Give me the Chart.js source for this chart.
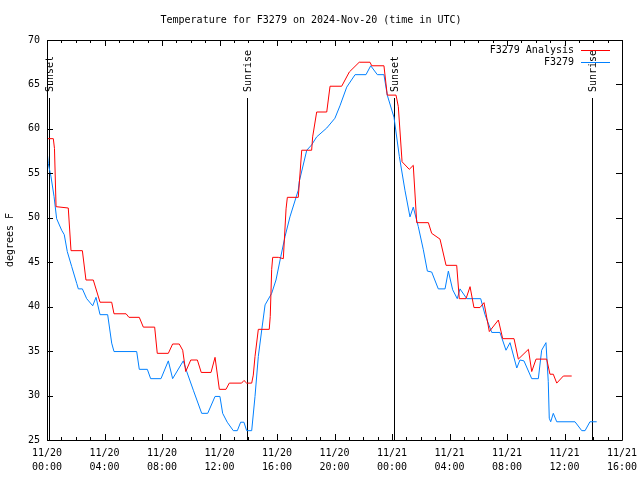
<!DOCTYPE html>
<html>
<head>
<meta charset="utf-8">
<script src="https://cdn.jsdelivr.net/npm/chart.js@4.4.1/dist/chart.umd.min.js"></script>
<style>
  body { margin: 0; background: #fff; }
  canvas { display: block; }
</style>
</head>
<body>
<canvas id="temp-chart" width="640" height="480"></canvas>
<script>
// hours since 11/20 00:00 UTC
const analysisHours = [0, 0.44, 0.52, 0.63, 1.48, 1.67, 2.46, 2.71, 3.22, 3.69, 4.50, 4.66, 5.50, 5.70, 6.42, 6.70,
  7.49, 7.67, 8.44, 8.74, 9.20, 9.44, 9.65, 10.00, 10.46, 10.73, 11.41, 11.69, 11.99, 12.45, 12.68, 13.54,
  13.70, 13.89, 14.24, 14.35, 14.47, 14.70, 15.46, 15.53, 15.63, 15.70, 16.09, 16.44, 16.63, 16.72, 17.48,
  17.72, 18.41, 18.48, 18.76, 19.46, 19.69, 20.50, 21.03, 21.72, 22.47, 22.59, 23.44, 23.67, 24.28, 24.44,
  24.70, 25.20, 25.48, 25.72, 26.53, 26.76, 27.34, 27.76, 28.50, 28.68, 29.15, 29.43, 29.70, 30.12, 30.40,
  30.77, 31.40, 31.70, 32.49, 32.79, 33.49, 33.72, 34.02, 34.76, 34.99, 35.22, 35.46, 35.92, 36.50];
const analysisTemps = [58.9, 58.9, 57.8, 51.25, 51.1, 46.3, 46.3, 43.0, 43.0, 40.5, 40.5, 39.2, 39.2, 38.8, 38.8, 37.7,
  37.7, 34.75, 34.75, 35.8, 35.8, 35.1, 32.7, 34.0, 34.0, 32.6, 32.6, 34.3, 30.7, 30.7, 31.4, 31.4,
  31.7, 31.4, 31.4, 32.3, 34.4, 37.45, 37.45, 38.9, 44.2, 45.55, 45.55, 45.4, 51.0, 52.3, 52.3,
  57.6, 57.6, 59.1, 61.9, 61.9, 64.8, 64.8, 66.4, 67.5, 67.5, 67.1, 67.1, 63.8, 63.8, 62.5,
  56.3, 55.45, 55.9, 49.45, 49.45, 48.25, 47.6, 44.65, 44.65, 40.9, 40.9, 42.25, 39.9, 39.9, 40.45,
  37.2, 38.5, 36.4, 36.4, 34.1, 35.2, 32.7, 34.1, 34.1, 32.4, 32.4, 31.4, 32.2, 32.2];

const stationHours = [0, 0.09, 0.28, 0.49, 0.67, 1.02, 1.20, 1.41, 1.72, 2.07, 2.18, 2.46, 2.76, 3.18, 3.41, 3.69,
  4.22, 4.50, 4.66, 6.24, 6.42, 6.98, 7.21, 7.93, 8.44, 8.74, 9.48, 9.72, 10.18, 10.76, 11.18, 11.69,
  12.03, 12.22, 12.54, 12.96, 13.24, 13.47, 13.70, 13.89, 14.24, 14.47, 14.70, 14.94, 15.17, 15.63,
  15.93, 16.26, 16.56, 16.90, 17.48, 17.55, 18.07, 18.41, 18.76, 19.46, 20.03, 20.38, 20.85, 21.43,
  22.19, 22.52, 22.98, 23.44, 23.67, 24.14, 24.51, 24.90, 25.25, 25.48, 25.83, 26.18, 26.46, 26.76,
  27.22, 27.69, 27.92, 28.22, 28.54, 28.73, 29.20, 30.17, 30.47, 30.94, 31.51, 31.93, 32.21, 32.68,
  32.90, 33.18, 33.72, 34.18, 34.41, 34.71, 34.87, 34.94, 35.04, 35.22, 35.46, 36.73, 37.20, 37.43,
  37.77, 38.24];
const stationTemps = [57.6, 56.1, 54.6, 52.4, 49.9, 48.6, 48.1, 46.2, 44.5, 42.6, 42.0, 42.0, 40.9, 40.1, 41.05, 39.1,
  39.1, 35.9, 34.95, 34.95, 32.95, 32.95, 31.9, 31.9, 33.9, 31.9, 33.9, 32.7, 30.6, 28.0, 28.0, 29.9,
  29.9, 28.0, 27.0, 26.05, 26.05, 27.0, 27.0, 26.05, 26.05, 29.9, 34.4, 37.4, 40.2, 41.5,
  43.0, 45.6, 47.9, 50.1, 53.1, 54.1, 57.6, 58.2, 59.1, 60.1, 61.2, 62.6, 64.7, 66.1,
  66.1, 67.1, 66.1, 66.1, 63.8, 61.3, 56.9, 53.1, 50.1, 51.2, 49.0, 46.4, 44.0, 43.9,
  42.0, 42.0, 44.0, 41.9, 40.9, 42.0, 40.9, 40.9, 39.1, 37.1, 37.1, 35.1, 35.95, 33.1,
  34.0, 33.9, 31.9, 31.9, 35.1, 35.95, 31.6, 27.45, 27.05, 28.0, 27.05, 27.05, 26.05, 26.05,
  27.05, 27.05];

const xTickLabels = [['11/20', '00:00'], ['11/20', '04:00'], ['11/20', '08:00'], ['11/20', '12:00'],
  ['11/20', '16:00'], ['11/20', '20:00'], ['11/21', '00:00'], ['11/21', '04:00'], ['11/21', '08:00'],
  ['11/21', '12:00'], ['11/21', '16:00']];

const sunHours = [0.16, 13.88, 24.15, 37.92];
const sunNames = ['Sunset', 'Sunrise', 'Sunset', 'Sunrise'];

const seriesNames = ['F3279 Analysis', 'F3279'];
const seriesColors = ['#ff0000', '#0080ff'];

const FONT = '"DejaVu Sans Mono", "Liberation Mono", monospace';

function toPoints(xs, ys) {
  return xs.map((x, i) => ({ x: x, y: ys[i] }));
}

// gnuplot style frame, inward ticks, sunrise/sunset markers and legend
const gnuplotBits = {
  id: 'gnuplotBits',
  beforeDatasetsDraw(chart) {
    const ctx = chart.ctx;
    const area = chart.chartArea;
    const xs = chart.scales.x;
    ctx.save();
    ctx.strokeStyle = '#000';
    ctx.lineWidth = 1;
    ctx.fillStyle = '#000';
    ctx.font = '10px ' + FONT;
    sunHours.forEach((h, i) => {
      const px = Math.round(xs.getPixelForValue(h)) + 0.5;
      ctx.beginPath();
      ctx.moveTo(px, area.top + 58);
      ctx.lineTo(px, area.bottom);
      ctx.stroke();
      ctx.save();
      ctx.translate(px + 1, area.top + 52);
      ctx.rotate(-Math.PI / 2);
      ctx.textAlign = 'left';
      ctx.textBaseline = 'middle';
      ctx.fillText(sunNames[i], 0, 0);
      ctx.restore();
    });
    ctx.restore();
  },
  afterDatasetsDraw(chart) {
    const ctx = chart.ctx;
    const area = chart.chartArea;
    const xs = chart.scales.x;
    const ys = chart.scales.y;
    ctx.save();
    ctx.strokeStyle = '#000';
    ctx.lineWidth = 1;
    ctx.beginPath();
    ctx.rect(area.left + 0.5, area.top + 0.5, area.right - area.left, area.bottom - area.top);
    ctx.stroke();

    ctx.beginPath();
    for (let v = ys.min; v <= ys.max; v += 5) {
      const py = Math.round(ys.getPixelForValue(v)) + 0.5;
      ctx.moveTo(area.left, py); ctx.lineTo(area.left + 6, py);
      ctx.moveTo(area.right, py); ctx.lineTo(area.right - 6, py);
    }
    for (let h = xs.min; h <= xs.max; h += 1) {
      const px = Math.round(xs.getPixelForValue(h)) + 0.5;
      const len = h % 4 === 0 ? 6 : 3;
      ctx.moveTo(px, area.bottom); ctx.lineTo(px, area.bottom - len);
      ctx.moveTo(px, area.top); ctx.lineTo(px, area.top + len);
    }
    ctx.stroke();

    // legend
    ctx.font = '10px ' + FONT;
    ctx.textAlign = 'right';
    ctx.textBaseline = 'middle';
    seriesNames.forEach((name, i) => {
      const ty = area.top + 10 + i * 12;
      ctx.fillStyle = '#000';
      ctx.fillText(name, area.right - 48, ty);
      ctx.strokeStyle = seriesColors[i];
      ctx.beginPath();
      ctx.moveTo(area.right - 41, ty + 0.5);
      ctx.lineTo(area.right - 12, ty + 0.5);
      ctx.stroke();
    });
    ctx.restore();
  }
};

const tempChart = document.getElementById('temp-chart');

new Chart(tempChart, {
  type: 'scatter',
  data: {
    datasets: [{
      label: seriesNames[0],
      data: toPoints(analysisHours, analysisTemps),
      showLine: true,
      borderColor: seriesColors[0],
      borderWidth: 1,
      pointRadius: 0,
      tension: 0
    }, {
      label: seriesNames[1],
      data: toPoints(stationHours, stationTemps),
      showLine: true,
      borderColor: seriesColors[1],
      borderWidth: 1,
      pointRadius: 0,
      tension: 0
    }]
  },
  options: {
    responsive: false,
    animation: false,
    devicePixelRatio: 1,
    layout: {
      padding: { left: 0, right: 18, top: 0, bottom: 0 }
    },
    scales: {
      x: {
        type: 'linear',
        min: 0,
        max: 40,
        afterFit: (scale) => {
          scale.height = 40;
          scale.paddingLeft = 0;
          scale.paddingRight = 0;
        },
        afterBuildTicks: (scale) => {
          scale.ticks = xTickLabels.map((l, i) => ({ value: i * 4 }));
        },
        grid: { display: false, drawTicks: false },
        border: { display: false },
        ticks: {
          maxRotation: 0,
          autoSkip: false,
          padding: 6,
          color: '#000',
          font: { family: FONT, size: 10, lineHeight: 1.4 },
          callback: (value, index) => xTickLabels[index]
        }
      },
      y: {
        min: 25,
        max: 70,
        afterFit: (scale) => { scale.width = 47; },
        grid: { display: false, drawTicks: false },
        border: { display: false },
        ticks: {
          stepSize: 5,
          padding: 7,
          color: '#000',
          font: { family: FONT, size: 10 }
        },
        title: {
          display: true,
          text: 'degrees F',
          color: '#000',
          padding: { top: 4, bottom: 0 },
          font: { family: FONT, size: 10 }
        }
      }
    },
    plugins: {
      legend: { display: false },
      tooltip: { enabled: false },
      title: {
        display: true,
        text: 'Temperature for F3279 on 2024-Nov-20 (time in UTC)',
        color: '#000',
        font: { family: FONT, size: 10, weight: 'normal' },
        padding: { top: 14, bottom: 14 }
      }
    }
  },
  plugins: [gnuplotBits]
});
</script>
</body>
</html>
